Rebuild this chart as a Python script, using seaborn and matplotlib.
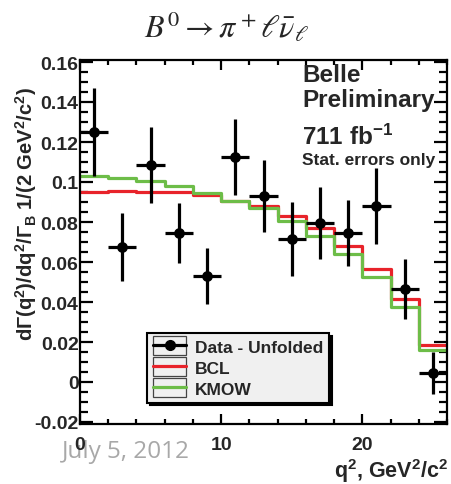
import numpy as np
import pandas as pd
import matplotlib
matplotlib.use("Agg")
import matplotlib.pyplot as plt
from matplotlib.ticker import MultipleLocator, FixedLocator, FixedFormatter
from matplotlib.lines import Line2D
from matplotlib.patches import Rectangle
from matplotlib.legend_handler import HandlerLine2D
import seaborn as sns

# q^2 binning (GeV^2/c^2) and unfolded spectrum
bin_edges = [0, 2, 4, 6, 8, 10, 12, 14, 16, 18, 20, 22, 24, 26]
data_values = [0.125, 0.0675, 0.1085, 0.0745, 0.053, 0.1125, 0.093,
               0.0715, 0.0795, 0.0745, 0.088, 0.0465, 0.0045]
data_errors = [0.022, 0.017, 0.019, 0.015, 0.014, 0.019, 0.018,
               0.0185, 0.018, 0.0165, 0.019, 0.015, 0.0105]
# fitted form-factor predictions per bin
bcl_values = [0.095, 0.0955, 0.095, 0.095, 0.0935, 0.0905, 0.088,
              0.083, 0.077, 0.068, 0.0565, 0.0415, 0.0185]
kmow_values = [0.103, 0.102, 0.1005, 0.098, 0.0945, 0.0905, 0.087,
               0.0805, 0.073, 0.064, 0.0525, 0.0375, 0.016]

y_ticks = [-0.02, 0, 0.02, 0.04, 0.06, 0.08, 0.1, 0.12, 0.14, 0.16]
y_tick_labels = ["-0.02", "0", "0.02", "0.04", "0.06", "0.08", "0.1",
                 "0.12", "0.14", "0.16"]
x_ticks = [0, 10, 20]
x_tick_labels = ["0", "10", "20"]
legend_labels = ["Data - Unfolded", "BCL", "KMOW"]

sns.set_theme(style="ticks")
plt.rcParams["font.family"] = ["Liberation Sans", "DejaVu Sans"]
plt.rcParams["font.weight"] = "normal"
plt.rcParams["mathtext.fontset"] = "custom"
plt.rcParams["mathtext.rm"] = "Liberation Sans:bold"
plt.rcParams["mathtext.bf"] = "Liberation Sans:bold"
plt.rcParams["mathtext.it"] = "Liberation Sans:bold"
plt.rcParams["mathtext.default"] = "it"

RED = "#e8232a"
GREEN = "#6dbd48"
W, H = 451, 485

fig = plt.figure(figsize=(W / 100, H / 100), dpi=100)
ax = fig.add_axes([80 / W, 1 - 425 / H, 367 / W, 364 / H])

edges = np.array(bin_edges, dtype=float)
centers = 0.5 * (edges[:-1] + edges[1:])
half_w = 0.5 * np.diff(edges)

steps = pd.DataFrame({
    "q2": np.concatenate([edges, edges]),
    "rate": np.concatenate([np.append(bcl_values, bcl_values[-1]),
                            np.append(kmow_values, kmow_values[-1])]),
    "model": ["BCL"] * len(edges) + ["KMOW"] * len(edges),
})
sns.lineplot(data=steps, x="q2", y="rate", hue="model",
             palette={"BCL": RED, "KMOW": GREEN}, drawstyle="steps-post",
             linewidth=2.3, legend=False, ax=ax, estimator=None, sort=False)

points = pd.DataFrame({"q2": centers, "rate": data_values})
ax.errorbar(centers, data_values, xerr=half_w, yerr=data_errors, fmt="none",
            ecolor="black", elinewidth=2.3, capsize=0, zorder=4)
sns.scatterplot(data=points, x="q2", y="rate", color="black", s=60,
                edgecolor="black", linewidth=0, zorder=5, ax=ax)

ax.set_xlim(0, 26)
ax.set_ylim(-0.021, 0.161)
ax.set_xlabel("")
ax.set_ylabel("")
ax.xaxis.set_major_locator(FixedLocator(x_ticks))
ax.xaxis.set_major_formatter(FixedFormatter(x_tick_labels))
ax.xaxis.set_minor_locator(MultipleLocator(2))
ax.yaxis.set_major_locator(FixedLocator(y_ticks))
ax.yaxis.set_major_formatter(FixedFormatter(y_tick_labels))
ax.yaxis.set_minor_locator(MultipleLocator(0.005))
for s in ax.spines.values():
    s.set_linewidth(1.6)
    s.set_color("black")
    s.set_visible(True)
ax.tick_params(axis="both", which="both", direction="in", top=True,
               right=True, width=1.6, color="black", labelsize=14)
ax.tick_params(axis="y", which="major", length=9.5, pad=1)
ax.tick_params(axis="y", which="minor", length=5.5)
ax.tick_params(axis="x", which="major", length=7, pad=9)
ax.tick_params(axis="x", which="minor", length=3.8)
for lbl in ax.get_xticklabels() + ax.get_yticklabels():
    lbl.set_fontweight("bold")


class BoxedLine(HandlerLine2D):
    def create_artists(self, legend, orig_handle, xdescent, ydescent,
                       width, height, fontsize, trans):
        arts = super().create_artists(legend, orig_handle, xdescent, ydescent,
                                      width, height, fontsize, trans)
        box = Rectangle((-xdescent, -ydescent - 0.2 * height), width,
                        1.4 * height, fill=False, edgecolor="#444444",
                        linewidth=0.9, transform=trans)
        return [box] + list(arts)


handles = [
    Line2D([], [], color="black", lw=2.3, marker="o", markersize=7),
    Line2D([], [], color=RED, lw=2.3),
    Line2D([], [], color=GREEN, lw=2.3),
]
leg = fig.legend(handles, legend_labels, loc="upper left",
                 bbox_to_anchor=(147 / W, 1 - 334 / H),
                 frameon=True, fancybox=False,
                 shadow={"color": "black", "alpha": 1},
                 prop={"weight": "bold", "size": 12.5},
                 handlelength=1.9, handleheight=0.8, handletextpad=0.5,
                 labelspacing=0.3, borderpad=0.35, borderaxespad=0,
                 numpoints=1,
                 handler_map={Line2D: BoxedLine()})
leg.get_frame().set_facecolor("#f0f0f0")
leg.get_frame().set_edgecolor("black")
leg.get_frame().set_linewidth(1.5)

# experiment labels inside the frame
fig.text(302 / W, 1 - 82 / H, "Belle", fontsize=17.5, fontweight="bold",
         ha="left", va="baseline")
fig.text(302 / W, 1 - 107 / H, "Preliminary", fontsize=17.5,
         fontweight="bold", ha="left", va="baseline")
fig.text(302 / W, 1 - 145 / H, r"711 fb$^{-1}$", fontsize=17.5,
         fontweight="bold", ha="left", va="baseline")
fig.text(302 / W, 1 - 165 / H, "Stat. errors only", fontsize=12.5,
         fontweight="bold", ha="left", va="baseline")

# axis titles
fig.text(26 / W, 1 - 214 / H,
         r"d$\Gamma$(q$^2$)/dq$^2$/$\Gamma_B$ 1/(2 GeV$^2$/c$^2$)",
         rotation=90, fontsize=14.5, fontweight="bold",
         ha="center", va="center")
fig.text(448 / W, 1 - 478 / H, r"q$^2$, GeV$^2$/c$^2$", fontsize=15.5,
         fontweight="bold", ha="right", va="baseline")

# decay channel heading
fig.text(226 / W, 1 - 27 / H, r"$B^0 \to \pi^+ \ell \bar{\nu}_\ell$",
         fontsize=23, ha="center", va="center", math_fontfamily="stix",
         fontweight="normal")

# slide date footer
fig.text(62 / W, 1 - 458 / H, "July 5, 2012", fontsize=17.5,
         family="Open Sans", fontweight="normal", color="#a8a8a8",
         ha="left", va="baseline", zorder=-1)

fig.savefig("out.png", dpi=100, facecolor="white")
